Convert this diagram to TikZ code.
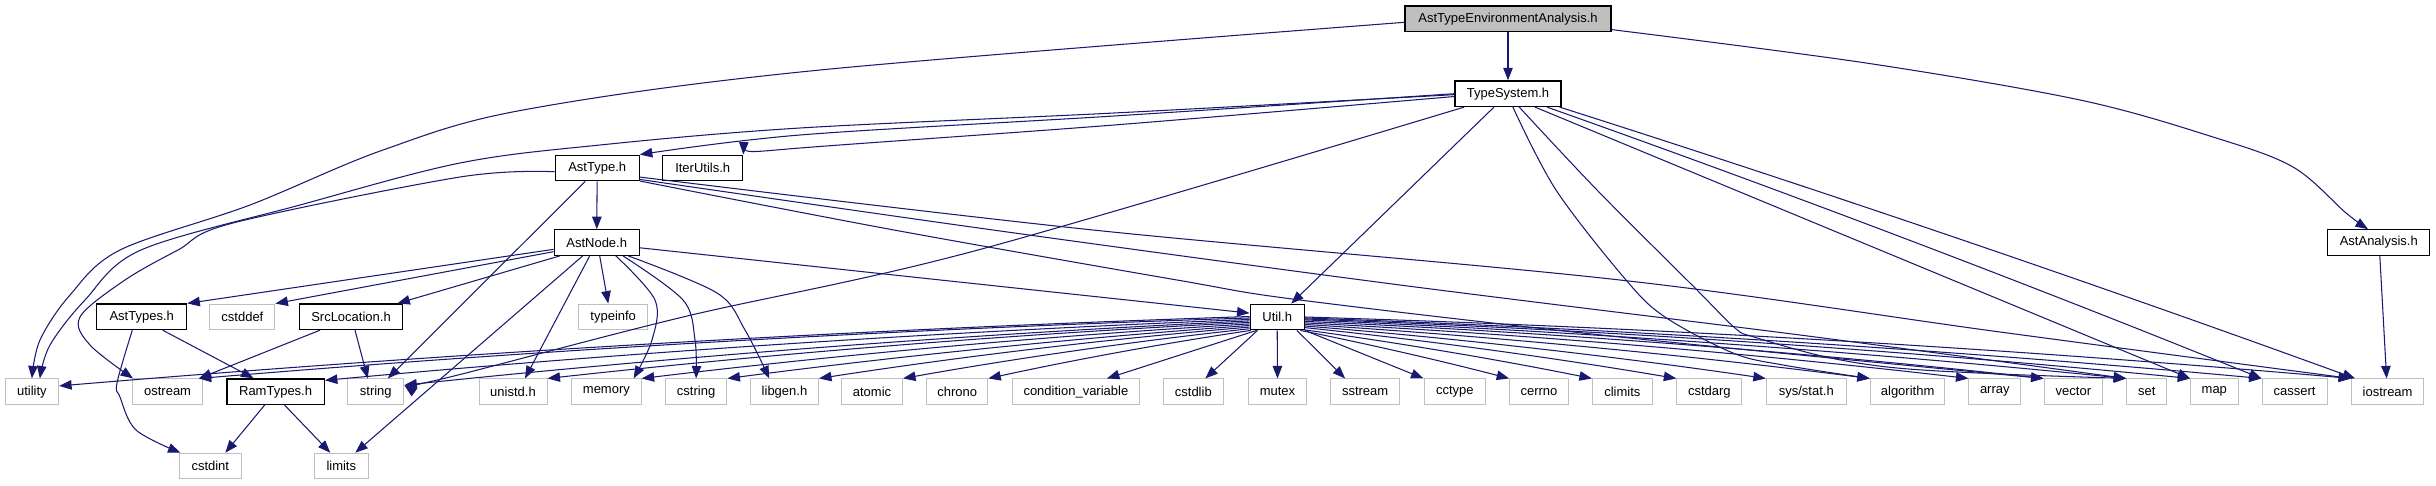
\documentclass[tikz,border=0pt]{standalone}
\usepackage{fontspec}
\setmainfont{Liberation Sans}
\usetikzlibrary{arrows.meta,calc}
\definecolor{edgec}{HTML}{191970}
\definecolor{gbord}{HTML}{BFBFBF}
\definecolor{rootfill}{HTML}{BFBFBF}
\begin{document}
\begin{tikzpicture}[x=1pt,y=-1pt,
  box/.style={rectangle, inner sep=0pt, minimum height=25.5pt, font=\fontsize{13}{15}\selectfont, text=black},
  sys/.style={box, draw=gbord, line width=1pt, fill=white},
  hdr/.style={box, draw=black, line width=1.3pt, fill=white},
  e/.style={draw=edgec, line width=1.05pt, -{Triangle[length=12.5pt,width=9.5pt]}},
  sm/.style={smooth, tension=0.55},
  fan/.style={to path={.. controls ($(\tikztostart)!0.33!(\tikztotarget)+(0,-#1)$) and ($(\tikztostart)!0.67!(\tikztotarget)+(0,-#1)$) .. (\tikztotarget)}}]
\useasboundingbox (0,0) rectangle (2436,485);
% ---------- nodes
\node[hdr, fill=rootfill, minimum width=206pt] (root) at (1508,18.7) {AstTypeEnvironmentAnalysis.h};
\node[hdr, minimum width=106pt] (ts) at (1508,93.7) {TypeSystem.h};
\node[hdr, minimum width=84pt] (asttype) at (597.2,168) {AstType.h};
\node[hdr, minimum width=80pt] (iter) at (702.7,168) {IterUtils.h};
\node[hdr, minimum width=85pt] (astnode) at (596.7,242.5) {AstNode.h};
\node[hdr, minimum width=102pt] (astan) at (2378.8,242.5) {AstAnalysis.h};
\node[hdr, minimum width=90pt] (asttypes) at (141.7,316.8) {AstTypes.h};
\node[sys, minimum width=65pt] (cstddef) at (242.4,316.8) {cstddef};
\node[hdr, minimum width=103.5pt] (srcloc) at (351,316.8) {SrcLocation.h};
\node[sys, minimum width=68.5pt] (typeinfo) at (613.2,316.8) {typeinfo};
\node[hdr, minimum width=54pt] (util) at (1277.2,317) {Util.h};
\node[sys, minimum width=53.4pt] (utility) at (31.9,391.7) {utility};
\node[sys, minimum width=69.6pt] (ostream) at (167.6,391.7) {ostream};
\node[hdr, minimum width=97.3pt] (ramtypes) at (275.6,391.7) {RamTypes.h};
\node[sys, minimum width=56pt] (string) at (375.8,391.7) {string};
\node[sys, minimum width=68pt] (unistd) at (513,391.7) {unistd.h};
\node[sys, minimum width=69.5pt] (memory) at (606.4,391.7) {memory};
\node[sys, minimum width=61.7pt] (cstring) at (696.1,391.7) {cstring};
\node[sys, minimum width=68pt] (libgen) at (784.5,391.7) {libgen.h};
\node[sys, minimum width=61pt] (atomic) at (872,391.7) {atomic};
\node[sys, minimum width=61.2pt] (chrono) at (957.2,391.7) {chrono};
\node[sys, minimum width=127pt] (condvar) at (1075.9,391.7) {condition\_variable};
\node[sys, minimum width=59.6pt] (cstdlib) at (1193.3,391.7) {cstdlib};
\node[sys, minimum width=58.6pt] (mutex) at (1277.5,391.7) {mutex};
\node[sys, minimum width=69.6pt] (sstream) at (1365.1,391.7) {sstream};
\node[sys, minimum width=61.7pt] (cctype) at (1454.9,391.7) {cctype};
\node[sys, minimum width=58.6pt] (cerrno) at (1539,391.7) {cerrno};
\node[sys, minimum width=59.8pt] (climits) at (1622.3,391.7) {climits};
\node[sys, minimum width=65pt] (cstdarg) at (1709.3,391.7) {cstdarg};
\node[sys, minimum width=80pt] (sysstat) at (1806.3,391.7) {sys/stat.h};
\node[sys, minimum width=74.6pt] (algorithm) at (1907.6,391.7) {algorithm};
\node[sys, minimum width=51.7pt] (array) at (1994.8,391.7) {array};
\node[sys, minimum width=58.6pt] (vector) at (2073.4,391.7) {vector};
\node[sys, minimum width=40pt] (set) at (2146.7,391.7) {set};
\node[sys, minimum width=47.4pt] (map) at (2214.3,391.7) {map};
\node[sys, minimum width=65pt] (cassert) at (2294.5,391.7) {cassert};
\node[sys, minimum width=72pt] (iostream) at (2387.6,391.7) {iostream};
\node[sys, minimum width=61.7pt] (cstdint) at (210.3,466) {cstdint};
\node[sys, minimum width=53.9pt] (limits) at (341.3,466) {limits};
% ---------- root
\draw[e] (root) -- (ts);
\draw[e] plot[sm] coordinates {(root.354) (1866,63) (2080,100) (2213,137) (2293,167) (2346,213) (astan.129)};
\draw[e] plot[sm] coordinates {(root.182) (820,70) (523,110) (383,150) (250,205) (120,250) (70,295) (40,340) (utility.north)};
% ---------- TypeSystem
\draw[e] plot[sm] coordinates {(ts.181) (1114,113) (800,128) (600,145) (460,163) (300,205) (141,250) (85,300) (50,345) (utility.59)};
\draw[e] plot[sm] coordinates {(ts.180) (1114,116) (800,135) (asttype.north east)};
\draw[e] plot[sm] coordinates {(ts.183) (1114,125) (800,148) (iter.north east)};
\draw[e] plot[sm] coordinates {(ts.197.6) (978,250) (683,317) (450,377) (string.13)};
\draw[e] ($(ts.south)+(-14,0)$) -- ($(util.north)+(14,0)$);
\draw[e] plot[sm] coordinates {(ts.290) (1556,190) (1626,280) (1665,317) (1733,353) (1783,365) (algorithm.north west)};
\draw[e] plot[sm] coordinates {(ts.310) (1597,190) (1694,287) (1735,328) (1754,337) (1826,357) (1897,368) (2000,374) (set.north west)};
\draw[e] ($(ts.south)+(27,0)$) -- (map.north west);
\draw[e] ($(ts.south)+(39,0)$) to[fan=6] (cassert.north west);
\draw[e] ($(ts.south)+(51.6,0)$) to[fan=6] ($(iostream.north west)+(4,0)$);
% ---------- AstAnalysis
\draw[e] ($(astan.south)+(1,0)$) -- ($(iostream.north)+(-1,0)$);
% ---------- AstType
\draw[e] (asttype) -- (astnode);
\draw[e] ($(asttype.south)+(-12,0)$) -- ($(string.north)+(12,0)$);
\draw[e] plot[sm] coordinates {(asttype.185.4) (460,177) (233,223) (178,250) (125,280) (80,317) (90,345) (ostream.159)};
\draw[e] plot[sm] coordinates {(asttype.343) (894,230) (1177,280) (1300,300) (1620,337) (vector.north west)};
\draw[e] plot[sm] coordinates {(asttype.345) (993,230) (1400,285) (1800,335) (set.north west)};
\draw[e] plot[sm] coordinates {(asttype.348) (1093,230) (1620,280) (2000,332) (iostream.north west)};
% ---------- AstNode
\draw[e] (astnode.189) -- (asttypes.north east);
\draw[e] (astnode.192) -- (cstddef.north east);
\draw[e] (astnode.200) -- ($(srcloc.north east)+(-6,0)$);
\draw[e] ($(astnode.south)+(3,0)$) -- ($(typeinfo.north)+(-5,0)$);
\draw[e] ($(astnode.south)+(-7,0)$) -- ($(unistd.north)+(12,0)$);
\draw[e] ($(astnode.south)+(-14,0)$) -- ($(limits.north)+(14,0)$);
\draw[e] plot[sm] coordinates {(astnode.325) (655,300) (652,340) (memory.26.5)};
\draw[e] plot[sm] coordinates {(astnode.333) (683,300) (695,340) (cstring.north)};
\draw[e] plot[sm] coordinates {(astnode.337) (717,293) (745,330) (libgen.139)};
\draw[e] (astnode.353) -- (util.172);
% ---------- AstTypes, SrcLocation, RamTypes
\draw[e] ($(asttypes.south)+(21,0)$) -- ($(ramtypes.north)+(-22,0)$);
\draw[e] plot[sm] coordinates {(asttypes.235.7) (117,383) (120,397) (136,430) (cstdint.156)};
\draw[e] ($(srcloc.south)+(-31,0)$) -- ($(ostream.north east)+(-4,0)$);
\draw[e] ($(srcloc.south)+(4,0)$) -- ($(string.north)+(-8,0)$);
\draw[e] ($(ramtypes.south)+(-11,0)$) -- ($(cstdint.north)+(15,0)$);
\draw[e] ($(ramtypes.south)+(9,0)$) -- ($(limits.north)+(-11,0)$);
% ---------- Util fan
\draw[e] (util.179) to[fan=10] (utility.12);
\draw[e] (util.182) to[fan=9] (ostream.23);
\draw[e] (util.185) to[fan=8] (ramtypes.13);
\draw[e] (util.188) to[fan=8] (string.13);
\draw[e] (util.191) to[fan=7] (unistd.north east);
\draw[e] (util.194) to[fan=6] (memory.north east);
\draw[e] (util.197) to[fan=5] (cstring.north east);
\draw[e] (util.200) to[fan=5] (libgen.north east);
\draw[e] (util.203) to[fan=4] (atomic.north east);
\draw[e] (util.207) to[fan=3] (chrono.north east);
\draw[e] (util.213) -- ($(condvar.north)+(31,0)$);
\draw[e] ($(util.south west)+(8,0)$) -- ($(cstdlib.north)+(12,0)$);
\draw[e] (util.south) -- (mutex.north);
\draw[e] ($(util.south east)+(-8,0)$) -- ($(sstream.north)+(-20,0)$);
\draw[e] (util.south east) -- (cctype.north west);
\draw[e] (util.330) to[fan=2] (cerrno.north west);
\draw[e] (util.335) to[fan=3] (climits.north west);
\draw[e] (util.339) to[fan=4] (cstdarg.north west);
\draw[e] (util.342) to[fan=5] (sysstat.north west);
\draw[e] (util.345) to[fan=6] (algorithm.north west);
\draw[e] (util.348) to[fan=7] (array.north west);
\draw[e] (util.351) to[fan=8] (vector.north west);
\draw[e] (util.354) to[fan=8] (set.north west);
\draw[e] (util.356) to[fan=9] (map.north west);
\draw[e] (util.358) to[fan=9] (cassert.north west);
\draw[e] (util.0) to[fan=10] (iostream.north west);
\end{tikzpicture}
\end{document}
